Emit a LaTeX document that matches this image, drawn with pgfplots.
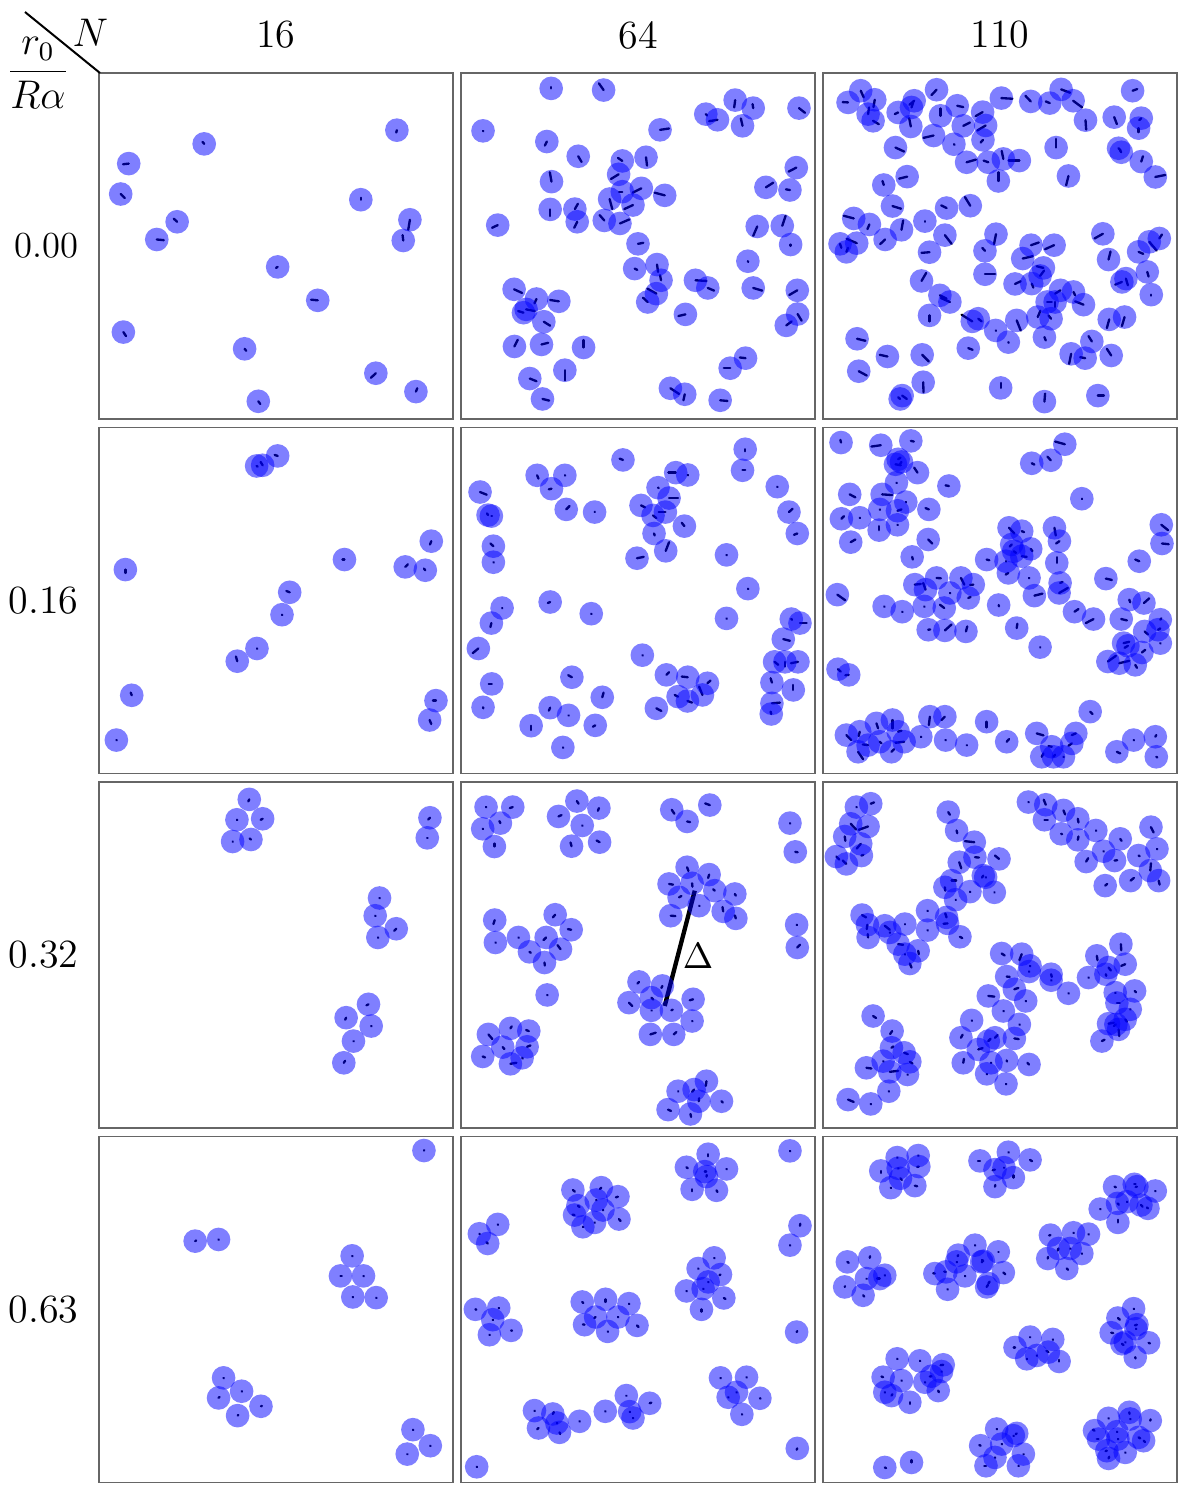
\documentclass[border=0pt]{standalone}
\usepackage{pgfplots}
\usepackage{pgfplotstable}
\pgfplotsset{compat=1.18}
\usepgfplotslibrary{groupplots}

% positions in zoomed pixel units of each panel (1 unit = 1/3 px), y downwards
% x y = disc centre, u v = orientation segment drawn from the centre
\pgfplotstableread{
x y u v
897 176 -2 7
320 217 -5 -6
94 276 -17 2
70 367 12 12
239 450 -10 -9
178 503 21 2
789 384 0 -6
936 444 -5 30
916 506 -2 -16
540 585 -5 3
660 685 -20 -2
78 780 8 12
441 830 5 6
834 903 -15 14
954 958 4 -10
482 987 6 8
}\pA
\pgfplotstableread{
x y u v
275 51 0 -4
432 56 -14 -20
826 86 -3 22
880 110 -2 -12
738 128 4 4
773 145 -25 4
848 163 -5 -22
1017 110 18 14
71 178 1 1
601 175 27 -4
262 210 -6 12
356 254 10 17
488 268 -13 -9
559 257 3 25
1009 288 -23 12
477 308 -23 14
276 330 -5 -28
918 347 22 -14
990 355 -12 -2
615 371 -30 -8
545 350 -26 13
488 360 -10 0
450 382 8 30
520 400 -26 12
272 413 0 20
346 412 9 -16
353 450 -9 18
434 446 -14 -16
481 455 28 -12
115 460 -17 8
892 464 -12 28
967 462 10 -30
992 518 0 4
535 516 16 -3
864 568 1 2
525 590 8 4
592 578 3 22
604 625 -3 -15
707 625 33 2
744 648 19 8
590 665 -27 -15
564 690 -14 -13
880 648 27 8
1012 655 -24 14
164 652 24 11
231 681 -6 13
298 688 -26 -4
192 722 -16 -5
200 712 26 5
253 749 19 12
677 727 -21 5
1013 726 12 20
979 760 16 -12
165 823 10 -20
246 817 20 -5
372 826 0 -22
857 858 -17 -2
811 888 -19 0
316 894 0 30
211 919 20 8
632 948 26 17
675 966 -4 18
249 980 20 5
781 984 22 2
}\pB
\pgfplotstableread{
x y u v
118 58 9 20
80 93 -16 -1
160 85 -4 22
140 128 3 -20
155 148 17 10
230 123 -10 5
278 88 -14 12
270 108 5 -15
268 165 -5 -25
345 55 -15 16
357 133 0 -22
407 103 18 4
336 192 -30 7
397 218 2 2
425 163 20 -10
483 122 -21 12
492 162 -25 15
484 205 -7 8
222 228 26 12
539 80 33 2
627 90 -16 -17
684 95 -12 -5
718 54 27 10
754 88 27 20
791 146 2 28
877 137 8 21
932 58 14 -5
958 140 -6 6
950 170 0 12
890 230 6 6
898 242 -4 -6
958 270 5 -16
1000 316 30 -6
703 228 0 -26
740 313 -7 28
435 272 28 -8
500 272 -14 -5
545 262 -5 -24
593 267 -32 0
530 328 0 -26
257 315 -24 6
187 340 -4 -12
213 403 26 8
375 409 -16 -8
446 402 -16 -26
310 448 0 2
97 440 -30 -8
144 458 -6 14
240 474 5 -28
191 503 -15 14
370 490 20 26
106 514 -30 -13
56 516 4 12
75 540 5 -12
324 541 -24 2
523 487 -6 30
490 537 -8 -9
490 607 30 0
628 520 23 -8
697 520 -27 12
603 560 30 -7
665 588 -20 -5
655 612 12 -16
580 636 17 -8
630 635 5 12
843 486 -25 14
860 563 6 -24
950 540 14 6
982 510 22 26
1012 500 8 -12
976 600 4 14
900 630 -20 8
912 620 6 20
988 668 0 3
300 627 14 -24
355 670 20 10
385 690 -27 -12
324 730 0 18
452 748 -32 -20
470 740 10 8
522 775 1 1
560 810 1 2
585 745 12 30
648 735 8 -19
688 740 -8 -10
676 690 14 0
716 655 -16 10
755 660 5 10
785 698 -25 -10
700 690 0 15
668 795 4 10
810 808 -10 -16
748 845 -6 30
790 858 -15 -3
868 850 -13 -20
862 742 -7 26
908 735 -8 27
440 828 13 5
107 800 25 6
198 853 -23 -5
302 848 20 20
112 897 24 13
305 930 1 30
242 970 14 10
236 980 -6 -5
537 947 0 -15
668 988 2 -24
828 970 18 0
}\pC
\pgfplotstableread{
x y u v
477 120 3 2
495 118 -6 -10
540 90 -9 -3
84 430 0 10
1000 345 -4 10
740 400 -6 0
922 422 8 -8
982 432 -4 -5
576 498 -10 -4
553 565 1 1
478 666 1 1
419 704 -4 -14
103 806 -3 -8
57 940 1 1
1014 822 -9 0
995 880 5 12
}\pD
\pgfplotstableread{
x y u v
490 102 -10 -4
856 70 0 6
848 133 8 0
233 148 4 10
316 148 1 1
276 188 -8 2
648 140 -22 0
684 147 1 1
62 198 20 8
86 267 -3 -5
96 270 2 0
320 250 10 -10
405 258 1 -1
595 185 2 1
628 216 27 0
544 238 12 6
580 268 10 8
617 258 -20 0
583 322 2 6
674 300 -8 -10
618 374 10 -26
532 396 20 -4
952 182 1 1
987 258 11 -10
1012 322 -10 4
102 360 -9 -8
102 408 1 1
800 386 1 1
864 487 1 1
800 576 1 1
128 545 1 1
96 590 -3 12
57 666 -17 14
272 527 -7 3
395 562 1 1
548 686 1 1
994 578 2 2
1020 590 20 0
970 638 20 5
944 706 11 9
975 706 0 14
1014 706 -21 4
936 768 -4 -13
1000 790 0 -15
936 830 24 -2
934 862 -2 -7
620 745 8 -8
684 752 -18 -2
743 770 9 -8
655 810 -10 -5
683 823 14 5
728 805 -10 -25
590 845 15 8
97 772 -9 0
71 842 1 3
337 752 -11 -6
428 812 4 -14
272 843 -4 9
327 866 1 1
215 897 0 13
407 896 -7 4
310 962 1 1
}\pE
\pgfplotstableread{
x y u v
59 50 -2 -8
178 58 -28 4
268 45 9 2
230 100 7 -5
222 115 16 3
240 108 -4 6
288 140 -10 -15
225 170 1 1
85 205 17 9
182 205 30 2
253 228 1 1
175 250 1 1
115 275 1 1
60 278 8 -8
228 254 12 -4
228 296 1 1
173 312 0 -12
88 348 14 -8
322 250 -10 -4
320 340 12 12
272 392 2 8
382 180 -10 -2
630 112 8 4
687 103 -10 -11
729 55 -29 -8
780 218 1 1
562 305 16 17
600 315 7 3
698 305 4 23
713 345 -10 7
570 355 -6 6
576 375 7 5
627 368 5 7
600 390 15 2
495 400 8 2
553 405 1 1
560 440 -8 5
622 455 1 1
638 508 24 -6
705 410 0 -17
715 470 7 -3
712 500 26 -15
531 536 1 4
585 605 2 -13
655 662 1 1
758 556 12 -8
815 578 -23 12
852 457 18 4
952 405 -12 -5
1018 296 20 16
1020 352 20 2
48 505 24 17
188 540 1 1
242 556 1 1
280 475 18 -2
312 490 -7 -20
345 455 13 1
418 455 10 20
455 475 -10 1
385 500 1 1
440 515 7 -3
308 540 1 1
368 545 -13 -10
320 610 6 -1
370 612 20 -18
433 615 4 -15
50 728 8 7
82 745 -10 1
922 520 3 8
966 530 16 -14
898 578 17 4
968 615 10 9
1015 580 3 -4
1008 610 7 -4
1015 650 1 1
905 650 17 -4
918 658 -10 6
960 678 10 -8
858 705 24 -17
892 710 30 -7
940 715 5 9
805 855 7 7
495 885 0 17
555 945 7 -8
325 870 -3 25
370 870 -10 10
298 930 1 1
372 940 1 1
435 955 1 1
75 925 15 15
115 915 -3 13
165 890 5 15
213 880 0 25
230 915 10 -3
140 955 -16 -2
175 945 5 5
110 975 15 22
210 975 8 -8
248 945 -26 3
645 920 20 6
690 960 -10 -2
725 990 1 1
660 990 5 -10
695 990 5 -6
762 920 -12 5
750 950 -10 7
885 975 10 5
935 940 1 1
1000 930 3 -5
1003 990 3 2
}\pF
\pgfplotstableread{
x y u v
455 57 -3 6
418 118 1 1
495 115 -6 3
405 183 1 1
460 177 -4 -3
996 112 -5 5
988 172 1 1
845 352 1 1
832 405 1 1
895 444 -6 6
840 470 1 1
812 670 -6 3
745 710 -3 6
820 735 1 1
767 780 1 1
738 845 4 -6
}\pG
\pgfplotstableread{
x y u v
80 80 1 1
160 80 -9 3
70 145 1 1
123 128 -3 -6
105 198 0 -9
352 62 5 8
297 108 9 -4
418 83 -3 8
368 135 1 1
336 197 -3 -11
420 185 -9 -5
636 88 8 12
682 123 9 2
750 74 -14 -5
990 128 1 1
1006 214 7 1
682 260 4 11
748 282 -3 10
697 308 1 10
628 310 12 2
765 330 -5 -4
825 340 3 5
658 350 7 -4
718 375 1 1
790 392 -2 -13
828 413 -3 -9
633 405 14 1
1010 432 1 1
1012 500 8 -8
106 418 -4 12
108 485 1 1
177 470 1 1
287 402 -7 8
335 447 -10 -2
260 470 -8 8
210 513 4 3
303 505 -9 -12
255 545 1 9
263 642 1 1
538 603 -5 5
608 615 -3 6
508 665 10 10
575 650 6 6
575 688 1 1
635 688 4 -2
700 655 -10 3
697 720 1 1
572 760 16 -5
642 760 8 -7
87 760 12 14
153 742 4 -6
208 750 -8 -3
130 798 5 6
203 797 10 -4
70 826 7 3
153 848 18 -3
188 830 2 2
655 930 1 1
740 900 -2 14
703 925 -6 7
717 960 1 -9
785 960 4 4
625 985 9 4
692 998 2 9
}\pH
\pgfplotstableread{
x y u v
105 80 1 1
148 70 10 -4
88 130 16 17
140 138 -28 10
70 168 2 13
118 190 -12 14
45 228 9 9
75 250 -11 -10
120 225 6 -2
380 95 5 8
405 150 2 8
458 185 -28 -3
460 230 12 1
413 245 6 18
532 235 -12 -10
485 285 -4 6
492 290 1 1
390 300 14 0
370 320 1 10
445 333 1 1
518 335 1 1
402 357 1 1
318 390 1 1
375 410 -4 -12
378 428 -12 1
318 448 1 1
415 468 7 4
122 403 12 7
138 432 -2 13
190 435 15 12
250 430 1 1
140 470 -1 -10
230 490 15 2
250 520 1 1
290 510 2 10
265 548 5 12
205 455 1 1
620 65 1 1
672 73 -6 -15
668 118 10 0
725 90 5 12
768 115 2 11
718 160 3 1
768 178 2 -10
822 150 1 1
845 212 1 1
895 175 4 6
987 140 8 16
950 225 3 2
1005 205 1 1
793 243 6 -10
878 240 8 -1
985 270 2 -22
1010 300 3 12
926 300 10 -8
850 315 6 -5
540 518 9 6
600 520 -7 18
625 555 1 1
622 572 1 1
688 580 2 8
688 598 1 1
740 637 1 1
555 587 9 1
578 625 12 -4
612 660 1 1
500 645 18 2
545 690 1 1
450 718 1 1
593 730 1 1
578 772 13 2
520 770 8 -8
500 780 7 -7
418 770 5 -9
470 805 13 -4
425 845 2 -12
508 845 1 1
555 838 1 3
622 850 -5 -5
495 878 1 1
553 908 1 1
897 490 1 18
825 525 2 13
800 590 1 1
860 560 7 9
910 550 -12 5
852 580 1 5
880 635 1 1
938 630 4 4
885 666 9 0
925 685 1 1
910 715 5 7
860 728 16 -3
890 745 2 20
840 780 8 -4
882 730 -6 5
155 705 9 6
212 750 -6 9
210 800 6 -4
248 815 11 4
265 842 8 5
135 860 15 2
205 872 25 -3
185 840 1 1
258 880 1 1
202 930 1 1
80 955 17 7
148 968 1 1
}\pI
\pgfplotstableread{
x y u v
978 47 1 -1
293 318 3 -2
363 313 1 1
763 362 1 1
728 422 4 0
797 422 1 1
765 485 1 1
835 487 1 1
378 727 1 1
432 767 1 1
363 787 3 -3
490 812 3 -1
420 840 2 -2
945 882 1 1
997 930 1 1
928 955 1 1
}\pJ
\pgfplotstableread{
x y u v
745 58 0 6
680 97 4 3
800 102 1 1
735 110 4 0
740 125 1 -5
697 163 0 6
770 166 3 5
990 48 1 1
340 165 6 5
425 158 -4 4
475 185 -6 2
410 195 1 1
355 212 5 4
345 240 -6 -1
430 225 1 1
478 252 5 6
370 275 1 1
405 262 1 1
115 268 1 1
60 296 1 1
85 325 -4 -4
1020 272 1 -6
990 330 1 1
763 368 1 1
715 400 1 1
782 418 -3 2
745 440 1 1
680 467 1 1
730 460 1 1
792 488 5 3
725 522 0 7
368 500 3 3
438 492 0 8
508 505 1 1
408 545 -4 3
375 568 -5 -1
475 545 1 1
444 588 1 1
532 570 5 5
48 522 3 1
118 518 1 1
100 553 1 1
90 598 1 1
155 585 3 1
1010 590 2 -3
782 727 1 1
860 725 1 1
830 770 1 1
805 785 1 1
900 788 2 1
846 836 1 1
500 780 1 1
570 803 5 -2
437 827 1 1
510 828 1 1
520 847 1 1
225 825 1 1
280 835 3 -6
292 862 1 1
237 877 -4 4
300 890 2 5
360 857 1 1
1012 938 -2 4
52 993 1 1
}\pK
\pgfplotstableread{
x y u v
227 68 1 1
290 62 1 1
178 108 0 6
230 100 1 1
292 95 -5 1
237 130 4 5
208 158 1 1
280 152 7 2
560 52 1 1
475 78 -6 0
625 75 6 4
520 104 -7 2
547 98 1 1
575 128 0 -7
520 155 1 -5
878 155 4 2
937 148 4 0
1000 168 1 1
835 222 1 1
887 205 4 4
915 200 1 1
945 155 -4 1
957 210 5 5
978 220 -3 -3
888 262 0 -8
78 380 4 3
145 368 1 -5
70 455 1 -2
125 480 4 4
135 430 1 1
175 430 -8 0
190 420 1 1
460 330 1 1
530 350 1 1
410 360 -2 3
485 378 -4 -4
340 415 -5 -1
373 410 -5 -1
430 422 1 1
378 462 1 1
545 412 6 5
495 455 4 -6
480 380 1 1
405 380 1 1
500 445 4 -6
686 300 -4 1
755 293 1 1
800 297 1 1
710 340 -2 6
745 340 1 1
780 355 1 1
678 370 1 -5
735 400 4 4
935 520 1 1
888 548 6 5
945 568 -6 2
942 580 1 1
868 592 6 1
980 622 4 2
900 625 5 4
940 665 1 4
910 620 1 1
580 636 -4 0
625 605 1 1
693 612 1 1
645 660 1 1
680 650 -6 -4
712 678 0 -5
615 670 1 1
227 670 1 1
295 676 1 1
365 688 -8 1
185 725 -5 -2
240 735 1 1
310 740 1 1
350 765 2 5
190 770 1 1
210 780 3 -4
265 800 0 5
330 722 -5 1
360 708 1 1
525 880 1 1
585 893 -3 3
477 930 -4 -2
540 925 1 1
605 955 1 1
493 990 -5 0
520 965 1 1
590 990 1 1
575 900 1 1
860 848 1 1
922 830 1 5
985 855 1 -4
818 885 -5 -3
885 888 1 1
950 905 5 3
830 910 -5 0
965 915 4 4
855 945 -4 1
910 950 1 1
860 968 2 -5
925 850 1 1
888 910 1 1
190 995 4 2
270 980 0 -7
}\pL

\newcommand{\panel}[1]{%
  \addplot[only marks, mark=*, mark size=3.55pt,
    mark options={blue, draw opacity=0, fill opacity=0.5}] table {#1};
  \addplot[black, line width=0.7pt, line cap=round,
    quiver={u=\thisrow{u}, v=\thisrow{v}}] table {#1};
}

\begin{document}
\begin{tikzpicture}
\begin{groupplot}[
    group style={group size=3 by 4, horizontal sep=2.4pt, vertical sep=2.55pt},
    scale only axis, width=106.2pt, height=103.8pt,
    xmin=5, xmax=1065, ymin=5, ymax=1040, y dir=reverse,
    ticks=none,
    axis line style={draw=black!60, line width=0.4pt},
]
\nextgroupplot \panel{\pA}
\nextgroupplot \panel{\pB}
\nextgroupplot \panel{\pC}
\nextgroupplot \panel{\pD}
\nextgroupplot \panel{\pE}
\nextgroupplot \panel{\pF}
\nextgroupplot \panel{\pG}
\nextgroupplot \panel{\pH}
  \addplot[black, line width=1.3pt] coordinates {(705,330) (615,675)};
  \node[font=\fontsize{10.5}{12}\selectfont] at (axis cs:715,525) {$\Delta$};
\nextgroupplot \panel{\pI}
\nextgroupplot \panel{\pJ}
\nextgroupplot \panel{\pK}
\nextgroupplot \panel{\pL}
\end{groupplot}

% column and row headers
\begin{scope}[font=\fontsize{12}{14}\selectfont]
\node at ([yshift=11.4pt]group c1r1.north) {16};
\node at ([yshift=11.4pt]group c2r1.north) {64};
\node at ([yshift=11.4pt]group c3r1.north) {110};
\node[anchor=east, inner sep=0pt, font=\fontsize{11}{13}\selectfont] at ([xshift=-6pt]group c1r1.west) {0.00};
\node[anchor=east, inner sep=0pt] at ([xshift=-6pt]group c1r2.west) {0.16};
\node[anchor=east, inner sep=0pt] at ([xshift=-6pt]group c1r3.west) {0.32};
\node[anchor=east, inner sep=0pt] at ([xshift=-6pt]group c1r4.west) {0.63};
\node[inner sep=0pt] at ([shift={(-2.6pt,12pt)}]group c1r1.north west) {$N$};
\node[inner sep=0pt] at ([shift={(-18.3pt,0pt)}]group c1r1.north west) {$\displaystyle\frac{r_0}{R\alpha}$};
\end{scope}
\draw[line width=0.6pt] ([shift={(-22.2pt,18.3pt)}]group c1r1.north west)
  -- ([shift={(0.3pt,0pt)}]group c1r1.north west);
\path ([shift={(-29.7pt,21.9pt)}]group c1r1.north west)
  rectangle ([shift={(327.3pt,-428.7pt)}]group c1r1.north west);
\end{tikzpicture}
\end{document}
